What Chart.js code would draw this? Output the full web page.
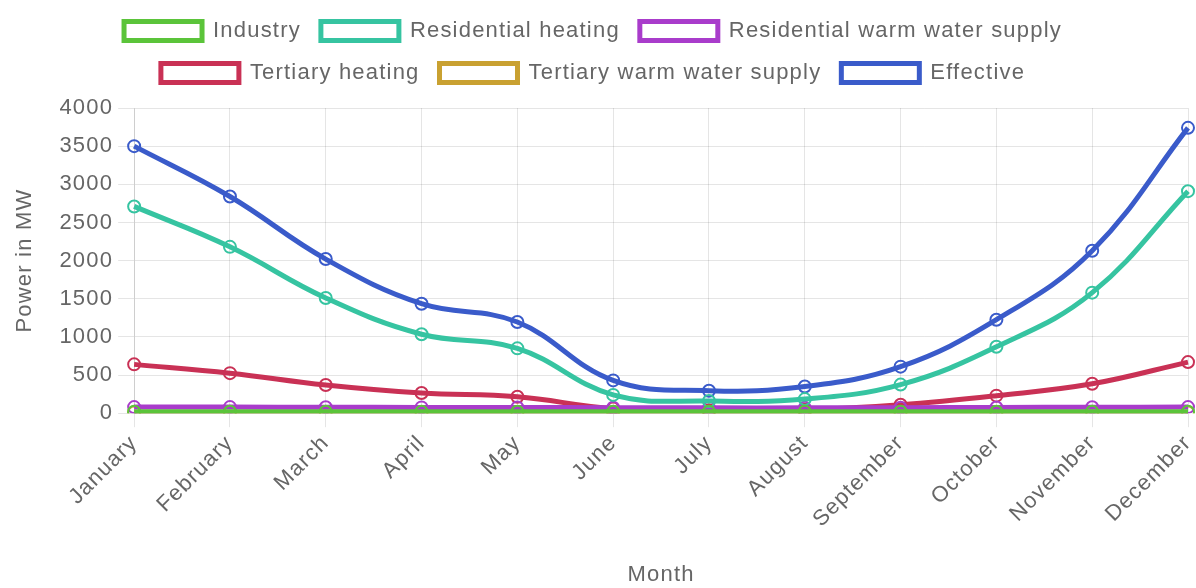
<!DOCTYPE html>
<html>
<head>
<meta charset="utf-8">
<script src="https://cdn.jsdelivr.net/npm/chart.js@4"></script>
<style>
  html, body { margin: 0; padding: 0; background: #fff; }
</style>
</head>
<body>
<canvas id="powerChart" width="1196" height="588"></canvas>
<script>
let months = ['January', 'February', 'March', 'April', 'May', 'June', 'July',
  'August', 'September', 'October', 'November', 'December'];
let industry = [20, 20, 20, 20, 20, 20, 20, 20, 20, 20, 20, 20];
let residentialHeating = [2710, 2180, 1510, 1035, 850, 240, 160, 185, 375, 870, 1580, 2910];
let residentialWater = [80, 80, 78, 76, 75, 72, 70, 70, 72, 75, 78, 80];
let tertiaryHeating = [640, 525, 370, 265, 215, 60, 40, 45, 110, 230, 385, 670];
let tertiaryWater = [10, 10, 10, 10, 10, 10, 10, 10, 10, 10, 10, 10];
let effective = [3500, 2840, 2020, 1435, 1195, 430, 295, 350, 610, 1225, 2130, 3740];
let yTicks = [0, 500, 1000, 1500, 2000, 2500, 3000, 3500, 4000];

let names = ['Industry', 'Residential heating', 'Residential warm water supply',
  'Tertiary heating', 'Tertiary warm water supply', 'Effective'];
let series = [industry, residentialHeating, residentialWater, tertiaryHeating, tertiaryWater, effective];
let colorHex = ['#5bc43a', '#36c4a1', '#a93ccb', '#c93155', '#c9a131', '#3a5bca'];

// canvas text in the picture is a bit wider than plain Arial
let letterSpacing = {
  id: 'letterSpacing',
  beforeUpdate: (chart) => { chart.ctx.letterSpacing = '1.2px'; },
  beforeDraw: (chart) => { chart.ctx.letterSpacing = '1.2px'; }
};

// a little more room under the legend, and the legend sits a bit left of centre
let legendTweak = {
  id: 'legendTweak',
  beforeInit: (chart) => {
    let fit = chart.legend.fit;
    chart.legend.fit = function () {
      fit.bind(chart.legend)();
      this.height += 14;
    };
  },
  afterLayout: (chart) => {
    chart.legend.left -= 9;
    chart.legend.right -= 9;
  }
};

Chart.defaults.font.family = '"Liberation Sans", Arial, sans-serif';
Chart.defaults.font.size = 22;
Chart.defaults.color = '#666';

let ctx = document.getElementById('powerChart').getContext('2d');
// eslint-disable-next-line no-unused-vars
let powerChart = new Chart(ctx, {
  type: 'line',
  data: {
    labels: months,
    datasets: series.map((values, i) => ({
      label: names[i],
      data: values,
      borderColor: colorHex[i],
      backgroundColor: 'transparent',
      borderWidth: 5,
      tension: 0.4,
      fill: false,
      pointRadius: 6,
      pointBorderWidth: 2,
      pointBackgroundColor: 'transparent'
    }))
  },
  options: {
    responsive: false,
    animation: false,
    layout: {
      padding: { left: 8, right: 0, top: 0, bottom: 0 }
    },
    plugins: {
      legend: {
        position: 'top',
        labels: {
          boxWidth: 78,
          boxHeight: 19,
          padding: 20
        }
      },
      tooltip: { enabled: false }
    },
    scales: {
      x: {
        title: { display: true, text: 'Month', padding: { top: 26, bottom: 0 } },
        ticks: { minRotation: 45, maxRotation: 45 },
        grid: { tickLength: 14 },
        afterFit: (scale) => { scale.paddingRight = 8; }
      },
      y: {
        min: 0,
        max: 4000,
        afterBuildTicks: (axis) => {
          axis.ticks = yTicks.map((v) => ({ value: v }));
        },
        title: { display: true, text: 'Power in MW', padding: { top: 4, bottom: 16 } },
        ticks: { padding: 5, callback: (value) => String(value) },
        grid: { tickLength: 16 }
      }
    }
  },
  plugins: [letterSpacing, legendTweak]
});
</script>
</body>
</html>
